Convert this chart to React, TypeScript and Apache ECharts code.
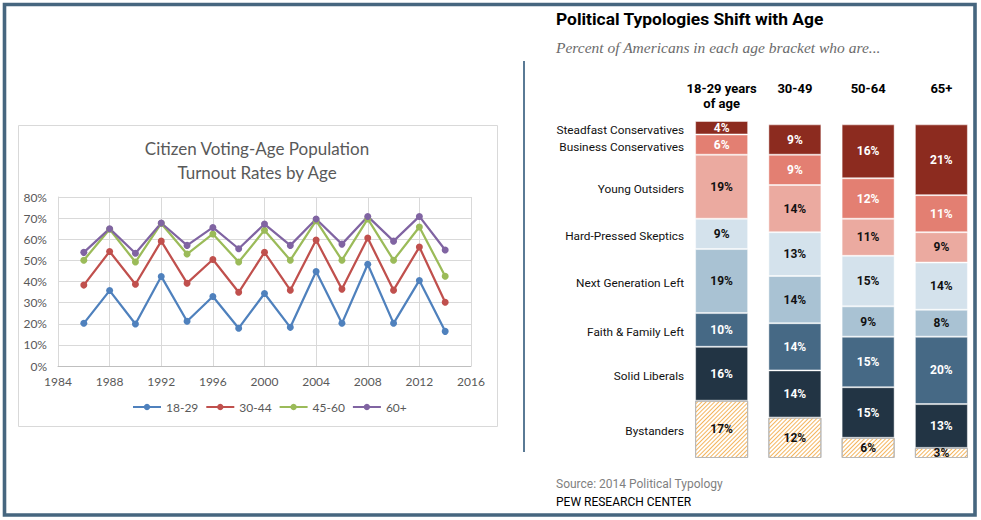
import React, { useEffect, useRef } from 'react';
import * as echarts from 'echarts';

// ---- Left chart: turnout rates ----
const years = [1986, 1988, 1990, 1992, 1994, 1996, 1998, 2000, 2002, 2004, 2006, 2008, 2010, 2012, 2014];
const turnout1829 = [20.2, 35.7, 19.9, 42.4, 21.2, 32.9, 17.9, 34.3, 18.3, 44.7, 20.2, 48.2, 20.2, 40.5, 16.4];
const turnout3044 = [38.3, 54.2, 38.7, 59.1, 39.2, 50.4, 34.9, 53.8, 35.9, 59.6, 36.4, 60.6, 35.9, 56.3, 30.2];
const turnout4560 = [50.1, 64.7, 49.2, 67.5, 53.0, 62.5, 49.2, 64.3, 50.1, 68.8, 50.1, 69.6, 50.1, 65.8, 42.5];
const turnout60plus = [53.8, 65.0, 53.4, 67.7, 57.1, 65.6, 55.5, 67.2, 57.1, 69.6, 57.7, 70.8, 59.1, 70.8, 54.9];
const lineNames = ['18-29', '30-44', '45-60', '60+'];
const lineColors = ['#4F81BD', '#C0504D', '#9BBB59', '#8064A2'];

// ---- Right chart: political typologies ----
const ageBrackets = ['18-29 years\nof age', '30-49', '50-64', '65+'];
// bottom to top
const typologies = [
  'Bystanders',
  'Solid Liberals',
  'Faith & Family Left',
  'Next Generation Left',
  'Hard-Pressed Skeptics',
  'Young Outsiders',
  'Business Conservatives',
  'Steadfast Conservatives',
];
const bystanders = [17, 12, 6, 3];
const solidLiberals = [16, 14, 15, 13];
const faithFamilyLeft = [10, 14, 15, 20];
const nextGenerationLeft = [19, 14, 9, 8];
const hardPressedSkeptics = [9, 13, 15, 14];
const youngOutsiders = [19, 14, 11, 9];
const businessConservatives = [6, 9, 12, 11];
const steadfastConservatives = [4, 9, 16, 21];
const typologyColors = ['#FFFFFF', '#223444', '#466985', '#A9C2D3', '#D4E2EC', '#EBAAA0', '#E37F72', '#8C2B1F'];
const typologyLabelColors = ['#111', '#fff', '#fff', '#111', '#111', '#111', '#fff', '#fff'];

const LEFT_FONT = 'Lato, "Open Sans", sans-serif';
const RIGHT_FONT = 'Roboto, "Liberation Sans", sans-serif';

export default function App() {
  const ref = useRef<HTMLDivElement>(null);

  useEffect(() => {
    if (!ref.current) return;
    const chart = echarts.init(ref.current, undefined, { renderer: 'svg' });
    const lineData = [turnout1829, turnout3044, turnout4560, turnout60plus];
    const typologyData = [
      bystanders, solidLiberals, faithFamilyLeft, nextGenerationLeft,
      hardPressedSkeptics, youngOutsiders, businessConservatives, steadfastConservatives,
    ];

    const lineSeries = lineNames.map((name, i) => ({
      name,
      type: 'line',
      xAxisIndex: 0,
      yAxisIndex: 0,
      data: years.map((y, j) => [y, lineData[i][j]]),
      symbol: 'circle',
      symbolSize: 7,
      lineStyle: { width: 2.25, color: lineColors[i] },
      itemStyle: { color: lineColors[i] },
    }));

    const barSeries = typologies.map((name, i) => ({
      name,
      type: 'bar',
      xAxisIndex: 1,
      yAxisIndex: 1,
      stack: 'typology',
      barWidth: 53,
      barGap: '-100%',
      data: typologyData[i],
      itemStyle: i === 0
        ? {
            color: '#FFFFFF',
            borderColor: '#B8B8B8',
            borderWidth: 1,
            decal: {
              symbol: 'rect',
              symbolSize: 1,
              color: '#F4B55E',
              dashArrayX: [1, 0],
              dashArrayY: [1, 2],
              rotation: -Math.PI / 4,
            },
          }
        : { color: typologyColors[i], borderColor: 'rgba(255,255,255,0.45)', borderWidth: 1 },
      label: {
        show: true,
        position: 'inside',
        formatter: '{c}%',
        color: typologyLabelColors[i],
        fontFamily: RIGHT_FONT,
        fontWeight: 'bold',
        fontSize: 12,
      },
      silent: true,
    }));

    // transparent overlay on the first column that carries the row names
    const nameSeries = typologies.map((name, i) => ({
      name: 'row-' + name,
      type: 'bar',
      xAxisIndex: 1,
      yAxisIndex: 1,
      stack: 'rowNames',
      barWidth: 53,
      barGap: '-100%',
      data: typologyData[i].map((v, j) => (j === 0 ? v : '-')),
      itemStyle: { color: 'rgba(0,0,0,0)' },
      label: {
        show: true,
        position: 'left',
        distance: 11,
        offset: [0, 2],
        formatter: name,
        color: '#111',
        fontFamily: RIGHT_FONT,
        fontSize: 11.8,
      },
      silent: true,
      z: 5,
    }));

    chart.setOption({
      animation: false,
      backgroundColor: '#fff',
      grid: [
        { left: 58, top: 197, width: 413, height: 169 },
        { left: 685, top: 121, width: 293, height: 337 },
      ],
      legend: {
        data: lineNames,
        left: 132,
        top: 401,
        padding: 0,
        itemWidth: 28,
        itemHeight: 8,
        itemGap: 7,
        textStyle: { color: '#595959', fontSize: 12, fontFamily: LEFT_FONT },
      },
      xAxis: [
        {
          type: 'value',
          gridIndex: 0,
          min: 1984,
          max: 2016,
          interval: 4,
          axisLine: { show: true, lineStyle: { color: '#BFBFBF' } },
          axisTick: { show: false },
          splitLine: { show: true, lineStyle: { color: '#D9D9D9' } },
          axisLabel: {
            color: '#595959',
            fontSize: 12,
            fontFamily: LEFT_FONT,
            margin: 9,
            formatter: (v: number) => String(v),
          },
        },
        {
          type: 'category',
          gridIndex: 1,
          data: ageBrackets,
          position: 'top',
          axisLine: { show: false },
          axisTick: { show: false },
          axisLabel: {
            interval: 0,
            color: '#000',
            fontFamily: RIGHT_FONT,
            fontWeight: 'bold',
            fontSize: 13,
            lineHeight: 15,
            verticalAlign: 'top',
            margin: 40,
          },
        },
      ],
      yAxis: [
        {
          type: 'value',
          gridIndex: 0,
          min: 0,
          max: 80,
          interval: 10,
          axisLine: { show: true, lineStyle: { color: '#D9D9D9' } },
          axisTick: { show: false },
          splitLine: { show: true, lineStyle: { color: '#D9D9D9' } },
          axisLabel: {
            color: '#595959',
            fontSize: 12,
            fontFamily: LEFT_FONT,
            margin: 11,
            formatter: '{value}%',
          },
        },
        { type: 'value', gridIndex: 1, min: 0, max: 100, show: false },
      ],
      graphic: [
        {
          type: 'rect',
          shape: { x: 4.5, y: 4.5, width: 970.5, height: 510.5 },
          style: { fill: 'none', stroke: '#46667F', lineWidth: 3.6 },
          silent: true,
        },
        {
          type: 'rect',
          shape: { x: 18.5, y: 125.5, width: 479, height: 301 },
          style: { fill: 'none', stroke: '#D9D9D9', lineWidth: 1 },
          silent: true,
        },
        {
          type: 'line',
          shape: { x1: 524, y1: 61, x2: 524, y2: 452 },
          style: { stroke: '#5A7A95', lineWidth: 2 },
          silent: true,
        },
        {
          type: 'text',
          x: 257,
          y: 160,
          style: {
            text: 'Citizen Voting-Age Population\nTurnout Rates by Age',
            fill: '#595959',
            font: '17px ' + LEFT_FONT,
            lineHeight: 24,
            textAlign: 'center',
            textVerticalAlign: 'middle',
          },
        },
        {
          type: 'text',
          x: 556,
          y: 19,
          style: {
            text: 'Political Typologies Shift with Age',
            fill: '#000',
            font: 'bold 17.4px ' + RIGHT_FONT,
            textAlign: 'left',
            textVerticalAlign: 'middle',
          },
        },
        {
          type: 'text',
          x: 556,
          y: 47,
          style: {
            text: 'Percent of Americans in each age bracket who are...',
            fill: '#6B6B6B',
            font: 'italic 15.5px "Liberation Serif", "DejaVu Serif", serif',
            textAlign: 'left',
            textVerticalAlign: 'middle',
          },
        },
        {
          type: 'text',
          x: 556,
          y: 484,
          style: {
            text: 'Source: 2014 Political Typology',
            fill: '#7F7F7F',
            font: '12px ' + RIGHT_FONT,
            textAlign: 'left',
            textVerticalAlign: 'middle',
          },
        },
        {
          type: 'text',
          x: 556,
          y: 502,
          style: {
            text: 'PEW RESEARCH CENTER',
            fill: '#000',
            font: '12px ' + RIGHT_FONT,
            textAlign: 'left',
            textVerticalAlign: 'middle',
          },
        },
      ],
      series: [...lineSeries, ...barSeries, ...nameSeries],
    });

    return () => chart.dispose();
  }, []);

  return (
    <div
      ref={ref}
      style={{ position: 'absolute', left: 0, top: 0, width: 981, height: 520, background: '#fff' }}
    />
  );
}
